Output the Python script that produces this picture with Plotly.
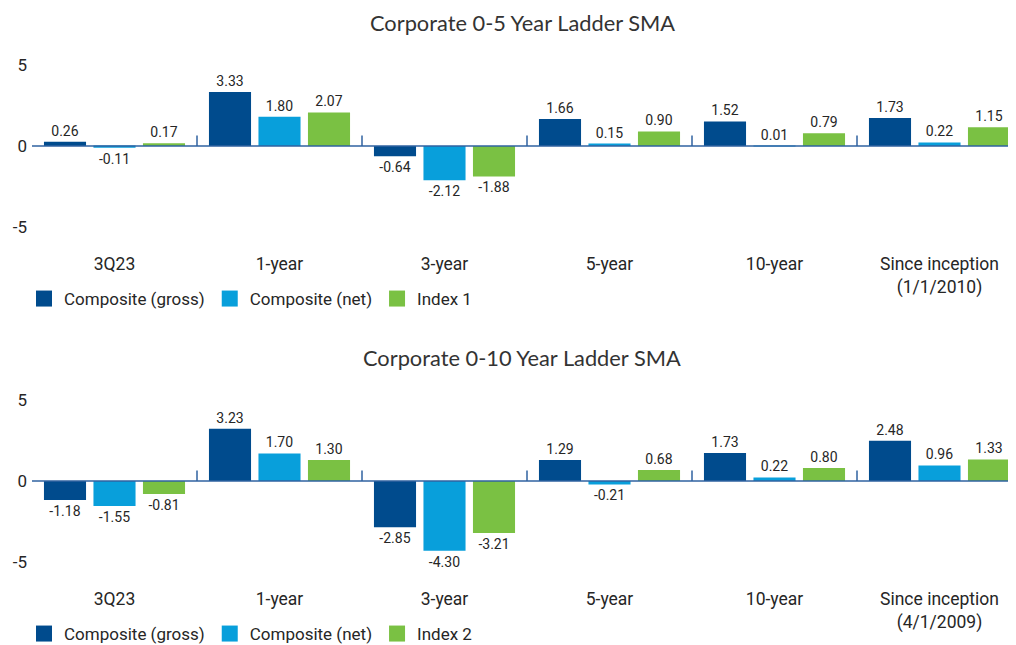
import plotly.graph_objects as go

categories = ["3Q23", "1-year", "3-year", "5-year", "10-year", "Since inception"]
tick_text_1 = ["3Q23", "1-year", "3-year", "5-year", "10-year", "Since inception<br>(1/1/2010)"]
tick_text_2 = ["3Q23", "1-year", "3-year", "5-year", "10-year", "Since inception<br>(4/1/2009)"]

title_1 = "Corporate 0-5 Year Ladder SMA"
title_2 = "Corporate 0-10 Year Ladder SMA"

gross_1 = [0.26, 3.33, -0.64, 1.66, 1.52, 1.73]
net_1 = [-0.11, 1.80, -2.12, 0.15, 0.01, 0.22]
index_1 = [0.17, 2.07, -1.88, 0.90, 0.79, 1.15]

gross_2 = [-1.18, 3.23, -2.85, 1.29, 1.73, 2.48]
net_2 = [-1.55, 1.70, -4.30, -0.21, 0.22, 0.96]
index_2 = [-0.81, 1.30, -3.21, 0.68, 0.80, 1.33]

y_ticks = [-5, 0, 5]
y_tick_text = ["-5", "0", "5"]

C_GROSS = "#004B8D"
C_NET = "#089FDB"
C_INDEX = "#7AC143"
AXIS = "#2F62A0"
TXT = "#262626"

# page body has an 8px margin; figure sized to fill the rest of the window
OFF = 8
W, H = 1016 - OFF, 645 - OFF


def py(p):
    return 1 - (p - OFF) / H


def px(p):
    return (p - OFF) / W


fig = go.Figure()

panels = [
    (gross_1, net_1, index_1, "Index 1", "x", "y", "legend"),
    (gross_2, net_2, index_2, "Index 2", "x2", "y2", "legend2"),
]

for g, n, i, idx_name, xa, ya, lg in panels:
    for vals, name, col in [(g, "Composite (gross)", C_GROSS), (n, "Composite (net)", C_NET), (i, idx_name, C_INDEX)]:
        fig.add_trace(go.Bar(
            x=categories, y=vals, name=name, marker_color=col, marker_line_width=0,
            texttemplate="%{y:.2f}", textposition="outside", cliponaxis=False,
            constraintext="none", textfont=dict(family="Roboto", size=14, color=TXT),
            xaxis=xa, yaxis=ya, showlegend=False, hoverinfo="skip",
        ))
        fig.add_trace(go.Scatter(
            x=[None], y=[None], mode="markers", name=name,
            marker=dict(symbol="square", size=18, color=col),
            xaxis=xa, yaxis=ya, legend=lg, showlegend=True,
        ))

# plot area runs from x=32 to the window edge (1016); the last category is slightly cut
cat_px = 165.0
x_dom = [px(32), 1.0]
x_range = [-0.5, -0.5 + (1016 - 32) / cat_px]
yr = [-6.5, 7]
common_x = dict(domain=x_dom, range=x_range, showgrid=False, showline=False, zeroline=False,
                ticks="", tickfont=dict(family="Roboto", size=17.5, color=TXT), fixedrange=True)
common_y = dict(range=yr, tickvals=y_ticks, ticktext=y_tick_text, showgrid=False, showline=False,
                zeroline=False, ticks="", ticklabelstandoff=4,
                tickfont=dict(family="Roboto", size=17, color=TXT), fixedrange=True)

legend_common = dict(orientation="h", x=px(24), xanchor="left", yanchor="top",
                     font=dict(family="Roboto", size=17, color=TXT), bgcolor="rgba(0,0,0,0)",
                     itemclick=False, itemdoubleclick=False)

fig.update_layout(
    width=W, height=H, margin=dict(l=0, r=0, t=0, b=0, autoexpand=False),
    paper_bgcolor="white", plot_bgcolor="white",
    barmode="group", bargap=0.1, bargroupgap=0.15,
    xaxis=dict(**common_x, anchor="y", tickvals=categories, ticktext=tick_text_1),
    yaxis=dict(**common_y, domain=[py(251.3), py(32.6)], anchor="x"),
    xaxis2=dict(**common_x, anchor="y2", tickvals=categories, ticktext=tick_text_2),
    yaxis2=dict(**common_y, domain=[py(586.3), py(367.6)], anchor="x2"),
    legend=dict(**legend_common, y=py(281)),
    legend2=dict(**legend_common, y=py(616)),
    annotations=[
        dict(text=title_1, x=px(522), y=py(22), xref="paper", yref="paper",
             showarrow=False, font=dict(family="Lato", size=21.8, color="#333333"), yanchor="middle"),
        dict(text=title_2, x=px(522), y=py(357), xref="paper", yref="paper",
             showarrow=False, font=dict(family="Lato", size=21.8, color="#333333"), yanchor="middle"),
    ],
)

shapes = []
for xr, yref in [("x", "y"), ("x2", "y2")]:
    shapes.append(dict(type="line", xref=f"{xr} domain", yref=yref, x0=0, x1=1, y0=0, y1=0,
                       line=dict(color=AXIS, width=1.5), layer="above"))
    for k in range(1, len(categories)):
        shapes.append(dict(type="line", xref=xr, yref=yref, x0=k - 0.5, x1=k - 0.5, y0=0, y1=0.65,
                           line=dict(color=AXIS, width=1.5)))
fig.update_layout(shapes=shapes)

fig.write_html("out.html")
